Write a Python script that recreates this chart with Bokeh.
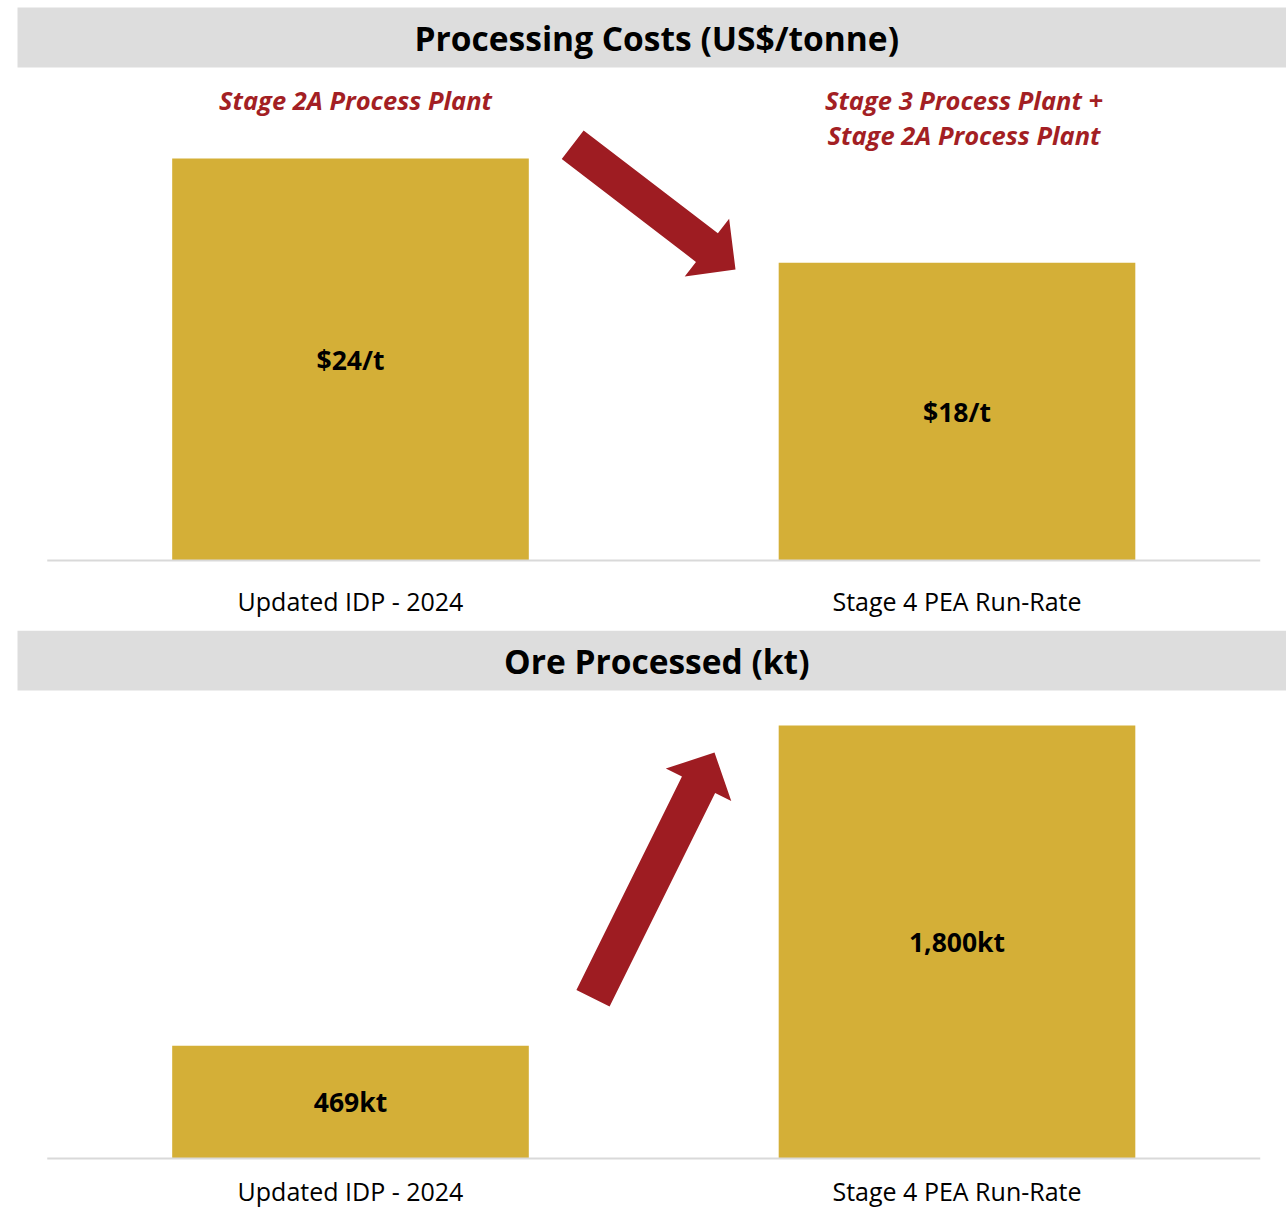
from bokeh.plotting import figure
from bokeh.models import Range1d, BoxAnnotation, ColumnDataSource
from bokeh.layouts import column
from bokeh.embed import file_html
from bokeh.resources import INLINE
from bokeh.core.properties import value
import math

# ---------------- data ----------------
categories = ["Updated IDP - 2024", "Stage 4 PEA Run-Rate"]
cost_values = [24.3, 18.0]
cost_labels = ["$24/t", "$18/t"]
ore_values = [469, 1800]
ore_labels = ["469kt", "1,800kt"]
cost_title = "Processing Costs (US$/tonne)"
ore_title = "Ore Processed (kt)"
cost_notes_left = ["Stage 2A Process Plant"]
cost_notes_right = ["Stage 3 Process Plant +", "Stage 2A Process Plant"]

# ---------------- style / layout ----------------
FONT = "Open Sans"
GOLD = "#D4AF37"
RED = "#9E1C22"
NOTE_RED = "#A31F24"
BAND = "#DDDDDD"
BASE = "#D9D9D9"

W = 1286
X_UNIT = 606.5      # px between category centres
X0_PX = 350.0       # px of first category centre from frame left
BAR_W = 0.588


def make_panel(height, base_px, top_px, band_top_px, band_px, values, labels, title,
               cat_label_px, arrow):
    n = len(categories)
    xs = list(range(n))
    scale = (base_px - top_px) / max(values)       # px per unit
    y_start = -(height - base_px) / scale
    y_end = base_px / scale
    x_start = -X0_PX / X_UNIT
    x_end = (W - X0_PX) / X_UNIT

    def to_data(px, py):
        return x_start + px / X_UNIT, y_end - py / scale

    p = figure(width=W, height=height, output_backend="svg", toolbar_location=None,
               x_range=Range1d(x_start, x_end), y_range=Range1d(y_start, y_end),
               x_axis_location=None, y_axis_location=None,
               min_border=0, min_border_left=0, min_border_right=0,
               min_border_top=0, min_border_bottom=0)
    p.outline_line_color = None
    p.xgrid.visible = False
    p.ygrid.visible = False
    p.background_fill_color = "white"
    p.border_fill_color = "white"

    # title band
    band_left, band_bottom = to_data(17, band_px)
    _, band_top = to_data(0, band_top_px)
    p.add_layout(BoxAnnotation(left=band_left, bottom=band_bottom, top=band_top,
                               fill_color=BAND, fill_alpha=1.0,
                               line_color=None, level="underlay"))
    _, ty = to_data(0, (band_px + band_top_px) / 2.0)
    p.text(x=[(n - 1) / 2.0 + 0.005], y=[ty], text=[title],
           text_font=value(FONT), text_font_size=value("33.5px"),
           text_font_style="bold", text_color="black",
           text_align="center", text_baseline="middle")

    # bars
    src = ColumnDataSource(dict(x=xs, top=values, label=labels,
                                mid=[v / 2.0 for v in values], cat=categories))
    p.vbar(x="x", top="top", bottom=0, width=BAR_W, source=src,
           fill_color=GOLD, line_color=None)
    p.text(x="x", y="mid", text="label", source=src,
           text_font=value(FONT), text_font_size=value("26.5px"),
           text_font_style="bold", text_color="black",
           text_align="center", text_baseline="middle")

    # baseline
    p.segment(x0=[-0.5], y0=[0], x1=[n - 0.5], y1=[0], line_color=BASE, line_width=2)

    # category labels
    _, cy = to_data(0, base_px + cat_label_px)
    p.text(x="x", y=cy, text="cat", source=src,
           text_font=value(FONT), text_font_size=value("25px"),
           text_color="black", text_align="center", text_baseline="middle")

    # block arrow (pixel geometry converted to data coords)
    (tx, tyy), (hx, hy), sw, hw, hl = arrow
    L = math.hypot(hx - tx, hy - tyy)
    ux, uy = (hx - tx) / L, (hy - tyy) / L
    nx, ny = -uy, ux
    bx, by = hx - ux * hl, hy - uy * hl
    pts = [
        (tx + nx * sw / 2, tyy + ny * sw / 2),
        (bx + nx * sw / 2, by + ny * sw / 2),
        (bx + nx * hw / 2, by + ny * hw / 2),
        (hx, hy),
        (bx - nx * hw / 2, by - ny * hw / 2),
        (bx - nx * sw / 2, by - ny * sw / 2),
        (tx - nx * sw / 2, tyy - ny * sw / 2),
    ]
    d = [to_data(a, b) for a, b in pts]
    p.patch(x=[q[0] for q in d], y=[q[1] for q in d], fill_color=RED, line_color=None)

    return p, to_data


# top panel: processing costs
H1 = 630
p1, td1 = make_panel(H1, base_px=560, top_px=158, band_top_px=7, band_px=67,
                     values=cost_values, labels=cost_labels, title=cost_title,
                     cat_label_px=40,
                     arrow=((572.2, 144.2), (735.0, 269.0), 36, 73, 36))
# red notes
_, ny1 = td1(0, 99)
_, ny2 = td1(0, 134)
p1.text(x=[0], y=[ny1], text=cost_notes_left, x_offset=5,
        text_font=value(FONT), text_font_size=value("25.5px"),
        text_font_style="bold italic", text_color=NOTE_RED,
        text_align="center", text_baseline="middle")
p1.text(x=[1, 1], y=[ny1, ny2], text=cost_notes_right, x_offset=7,
        text_font=value(FONT), text_font_size=value("25.5px"),
        text_font_style="bold italic", text_color=NOTE_RED,
        text_align="center", text_baseline="middle")

# bottom panel: ore processed
H2 = 579
p2, td2 = make_panel(H2, base_px=528, top_px=95, band_top_px=0, band_px=60,
                     values=ore_values, labels=ore_labels, title=ore_title,
                     cat_label_px=32,
                     arrow=((592.5, 367.7), (714.0, 122.0), 37, 73, 36))

layout = column(p1, p2, spacing=0)
open("out.html", "w").write(file_html(layout, INLINE))
